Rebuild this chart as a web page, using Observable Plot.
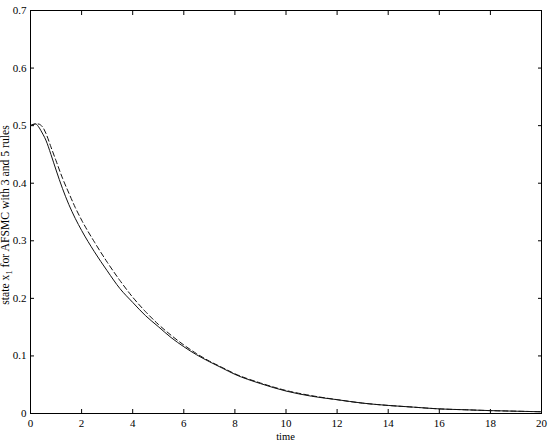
<!DOCTYPE html>
<html>
<head>
<meta charset="utf-8">
<script src="https://cdn.jsdelivr.net/npm/d3@7"></script>
<script src="https://cdn.jsdelivr.net/npm/@observablehq/plot@0.6"></script>
<style>
  html, body { margin: 0; padding: 0; background: #fff; }
</style>
</head>
<body>
<div id="chart"></div>
<script>
// time samples
const time = [0, 0.1, 0.2, 0.3, 0.4, 0.5, 0.6, 0.8, 1.0, 1.25, 1.5, 1.75, 2.0, 2.5, 3.0, 3.5, 4.0, 4.5, 5.0, 5.5, 6, 6.5, 7, 7.5, 8, 9, 10, 11, 12, 13, 14, 15, 16, 17, 18, 19, 20];
// solid curve: AFSMC with 3 rules
const x1Rules3 = [0.500, 0.502, 0.503, 0.499, 0.492, 0.484, 0.475, 0.450, 0.423, 0.391, 0.363, 0.339, 0.318, 0.281, 0.248, 0.217, 0.193, 0.170, 0.151, 0.132, 0.116, 0.102, 0.090, 0.079, 0.068, 0.052, 0.039, 0.030, 0.024, 0.018, 0.014, 0.011, 0.008, 0.0065, 0.005, 0.004, 0.003];
// dashed curve: AFSMC with 5 rules
const x1Rules5 = [0.500, 0.502, 0.503, 0.503, 0.501, 0.496, 0.487, 0.463, 0.439, 0.409, 0.383, 0.358, 0.336, 0.298, 0.263, 0.231, 0.202, 0.177, 0.155, 0.136, 0.119, 0.104, 0.091, 0.080, 0.069, 0.053, 0.040, 0.031, 0.024, 0.018, 0.014, 0.011, 0.008, 0.0065, 0.005, 0.004, 0.003];
const xTicks = [0, 2, 4, 6, 8, 10, 12, 14, 16, 18, 20];
const yTicks = [0, 0.1, 0.2, 0.3, 0.4, 0.5, 0.6, 0.7];

const solid = time.map((t, i) => ({t, v: x1Rules3[i]}));
const dashed = time.map((t, i) => ({t, v: x1Rules5[i]}));

const fontFamily = "'Liberation Serif', 'Times New Roman', serif";
const yFmt = d => d === 0 ? "0" : d.toFixed(1);

const svg = Plot.plot({
  width: 548,
  height: 441,
  marginLeft: 30,
  marginRight: 7,
  marginTop: 10,
  marginBottom: 28,
  style: {fontFamily, fontSize: "11px", color: "#000", background: "#fff"},
  x: {domain: [0, 20], ticks: xTicks},
  y: {domain: [0, 0.7], ticks: yTicks},
  marks: [
    Plot.frame({stroke: "#000", strokeWidth: 1}),
    Plot.axisX({anchor: "bottom", ticks: xTicks, tickSize: -4, tickPadding: 9.5, label: null, fontSize: 11}),
    Plot.axisX({anchor: "top", ticks: xTicks, tickSize: -4, tickFormat: () => "", label: null}),
    Plot.axisY({anchor: "left", ticks: yTicks, tickSize: -4, tickPadding: 8, tickFormat: yFmt, label: null, fontSize: 11}),
    Plot.axisY({anchor: "right", ticks: yTicks, tickSize: -4, tickFormat: () => "", label: null}),
    Plot.line(dashed, {x: "t", y: "v", stroke: "#111", strokeWidth: 1, strokeDasharray: "5,3", curve: "monotone-x"}),
    Plot.line(solid, {x: "t", y: "v", stroke: "#111", strokeWidth: 1, curve: "monotone-x"})
  ]
});

const root = d3.select(svg);
// x-axis label
root.append("text")
  .attr("x", 285.5)
  .attr("y", 440)
  .attr("text-anchor", "middle")
  .attr("font-family", fontFamily)
  .attr("font-size", 10.5)
  .attr("fill", "#000")
  .text("time");

// rotated y-axis label with a subscript
const lab = root.append("text")
  .attr("transform", "translate(9,215) rotate(-90)")
  .attr("text-anchor", "middle")
  .attr("font-family", fontFamily)
  .attr("font-size", 11.7)
  .attr("fill", "#000");
lab.append("tspan").text("state x");
lab.append("tspan").attr("dy", 3).attr("font-size", 8.5).text("1");
lab.append("tspan").attr("dy", -3).text(" for AFSMC with 3 and 5 rules");

document.getElementById("chart").appendChild(svg);
</script>
</body>
</html>
